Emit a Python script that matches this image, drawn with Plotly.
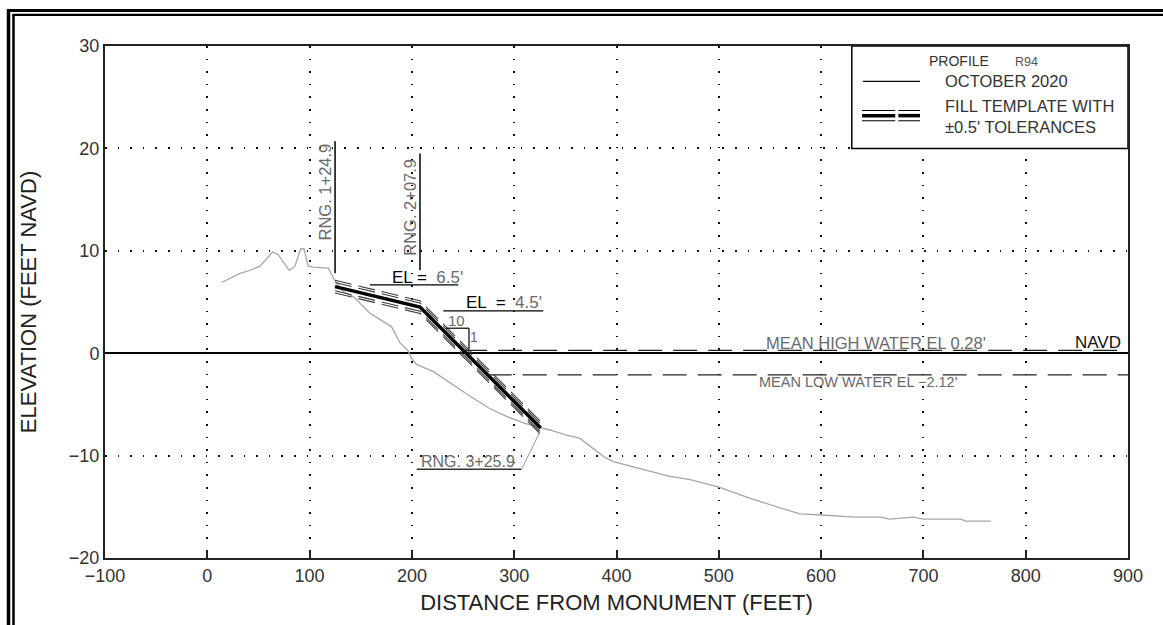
import plotly.graph_objects as go

# ---------------- data ----------------
profile_x = [14, 32, 42, 51.5, 64, 69.5, 80, 85.7, 91.3, 94.5, 98.7, 103.6, 118.3, 123.9,
             133, 143, 159, 172, 180, 188.4, 196.5, 199.7, 204.6, 221, 237, 257, 276, 293,
             309, 322, 335, 351, 364, 389, 397, 451, 472, 501, 530, 579, 600, 633, 658,
             667, 690, 700, 737, 741, 766]
profile_y = [6.9, 7.8, 8.1, 8.5, 9.9, 9.6, 8.1, 8.5, 10.2, 10.2, 8.5, 8.4, 8.3, 7.2,
             6.0, 5.5, 3.9, 3.1, 2.6, 1.0, 0.2, -0.5, -1.1, -1.8, -2.9, -4.2, -5.4, -6.2,
             -6.8, -7.2, -7.5, -8.0, -8.3, -10.2, -10.6, -12.0, -12.35, -13.1, -14.15, -15.7,
             -15.8, -16.0, -16.0, -16.2, -16.0, -16.2, -16.2, -16.4, -16.4]

template_x = [124.9, 207.9, 325.9]
template_y = [6.5, 4.5, -7.3]
tolerance = 0.5

mhw_el = 0.28
mlw_el = -2.12
mhw_x = [250.1, 900]
mlw_x = [274.1, 900]

rng_stations = [124.9, 207.9]
rng_labels = ["RNG. 1+24.9", "RNG. 2+07.9"]
rng_line_y = [[7.8, 20.7], [8.1, 19.5]]

x_ticks = [-100, 0, 100, 200, 300, 400, 500, 600, 700, 800, 900]
y_ticks = [-20, -10, 0, 10, 20, 30]

FONT = "Liberation Sans, Arial, DejaVu Sans, sans-serif"
GRAY_TXT = "#6a6a6a"

fig = go.Figure()

# profile
fig.add_trace(go.Scatter(x=profile_x, y=profile_y, mode="lines",
                         line=dict(color="#a6a6a6", width=1.3), showlegend=False,
                         hoverinfo="skip"))

# tolerance lines (double thin dashed lines each side)
for sgn in (1, -1):
    for off in (tolerance - 0.1, tolerance + 0.12):
        fig.add_trace(go.Scatter(x=template_x, y=[v + sgn * off for v in template_y],
                                 mode="lines",
                                 line=dict(color="#3c3c3c", width=1.1, dash="17px,7px"),
                                 showlegend=False, hoverinfo="skip"))
# template centre line
fig.add_trace(go.Scatter(x=template_x, y=template_y, mode="lines",
                         line=dict(color="black", width=3.5), showlegend=False,
                         hoverinfo="skip"))

# MHW & MLW
fig.add_trace(go.Scatter(x=mhw_x, y=[mhw_el, mhw_el], mode="lines",
                         line=dict(color="#222", width=1.3, dash="24px,11px"),
                         showlegend=False, hoverinfo="skip"))
fig.add_trace(go.Scatter(x=mlw_x, y=[mlw_el, mlw_el], mode="lines",
                         line=dict(color="#222", width=1.3, dash="24px,11px"),
                         showlegend=False, hoverinfo="skip"))

shapes = []
# RNG vertical lines
for xs, (y0, y1) in zip(rng_stations, rng_line_y):
    shapes.append(dict(type="line", x0=xs, x1=xs, y0=y0, y1=y1,
                       line=dict(color="black", width=1.5)))
# EL underlines
shapes.append(dict(type="line", x0=159, x1=245.4, y0=6.68, y1=6.68, line=dict(color="black", width=1.3)))
shapes.append(dict(type="line", x0=230.7, x1=328.4, y0=4.13, y1=4.13, line=dict(color="black", width=1.3)))
# slope 10:1 symbol
shapes.append(dict(type="line", x0=233.3, x1=255.8, y0=2.44, y1=2.44, line=dict(color="black", width=1.2)))
shapes.append(dict(type="line", x0=255.8, x1=255.8, y0=2.44, y1=0.39, line=dict(color="black", width=1.2)))
# RNG 3 leader
shapes.append(dict(type="line", x0=204.6, x1=307.2, y0=-11.34, y1=-11.34, line=dict(color="#333", width=1.5)))
shapes.append(dict(type="line", x0=307.2, x1=325.2, y0=-11.34, y1=-7.66, line=dict(color="#999", width=1)))

# legend box
shapes.append(dict(type="rect", x0=630, x1=900, y0=20, y1=30, fillcolor="white",
                   line=dict(color="black", width=1.5), layer="above"))
shapes.append(dict(type="line", x0=641, x1=696.7, y0=26.55, y1=26.55,
                   line=dict(color="black", width=1.3), layer="above"))
for seg in ((640, 672.5), (675.5, 696.7)):
    shapes.append(dict(type="line", x0=seg[0], x1=seg[1], y0=23.2, y1=23.2,
                       line=dict(color="black", width=3.5), layer="above"))
    for off in (0.5, -0.5):
        shapes.append(dict(type="line", x0=seg[0], x1=seg[1], y0=23.2 + off, y1=23.2 + off,
                           line=dict(color="black", width=1), layer="above"))

# outer page frame (paper coords)
PL, PR, PT, PB = 105, 1128, 46, 558


def px(xp):
    return (xp - PL) / (PR - PL)


def py(yp):
    return (PB - yp) / (PB - PT)


shapes.append(dict(type="line", xref="paper", yref="paper", x0=px(8.5), x1=px(8.5),
                   y0=py(9.5), y1=py(640), line=dict(color="black", width=3.5)))
shapes.append(dict(type="line", xref="paper", yref="paper", x0=px(13.5), x1=px(13.5),
                   y0=py(14.5), y1=py(640), line=dict(color="black", width=2.5)))
shapes.append(dict(type="line", xref="paper", yref="paper", x0=px(7), x1=px(1180),
                   y0=py(10.5), y1=py(10.5), line=dict(color="black", width=3)))
shapes.append(dict(type="line", xref="paper", yref="paper", x0=px(12.5), x1=px(1180),
                   y0=py(14.8), y1=py(14.8), line=dict(color="black", width=2.3)))

annotations = []


def ann(text, x, y, size=15, color=GRAY_TXT, xanchor="center", angle=0):
    annotations.append(dict(text=text, x=x, y=y, xref="x", yref="y", showarrow=False,
                            font=dict(family=FONT, size=size, color=color),
                            xanchor=xanchor, yanchor="middle", textangle=angle))


for lab, xt, yt in zip(rng_labels, [115.1, 198.1], [15.7, 14.3]):
    ann(lab, xt, yt, size=16.5, angle=-90)

ann("<span style='color:black'>EL</span> <span style='color:black'>=</span>  6.5'", 215.7, 7.4, size=17)
ann("<span style='color:black'>EL</span>  <span style='color:black'>=</span>  4.5'", 290, 4.95, size=17)
ann("10", 243.7, 3.2, size=15)
ann("1", 260.7, 1.6, size=14)
ann("MEAN HIGH WATER EL 0.28'", 653.3, 1.04, size=16.5)
ann("NAVD", 870.2, 1.04, size=17, color="#111")
ann("MEAN LOW WATER EL −2.12'", 636.1, -2.85, size=14.5)
ann("RNG. 3+25.9", 254.8, -10.53, size=16)

# legend texts
ann("PROFILE", 703.5, 28.5, size=14, color="#333", xanchor="left")
ann("R94", 787.6, 28.45, size=12.5, color="#555", xanchor="left")
ann("OCTOBER 2020", 719.2, 26.55, size=16.5, color="#333", xanchor="left")
ann("FILL TEMPLATE WITH", 719.2, 24.1, size=16.5, color="#333", xanchor="left")
ann("±0.5' TOLERANCES", 719.2, 22.05, size=16.5, color="#333", xanchor="left")

fig.update_layout(
    width=1163, height=625,
    margin=dict(l=PL, r=1163 - PR, t=PT, b=625 - PB, autoexpand=False),
    paper_bgcolor="white", plot_bgcolor="white",
    shapes=shapes, annotations=annotations,
    font=dict(family=FONT, color="#333"),
    showlegend=False,
)
fig.update_xaxes(
    range=[-100, 900], tickvals=x_ticks, ticktext=[str(v).replace("-", "−") for v in x_ticks],
    ticks="inside", ticklen=7, tickwidth=1.5, tickcolor="#222",
    showgrid=True, gridcolor="#111", gridwidth=1.5, griddash="1.6px,11px",
    zeroline=False, showline=True, linecolor="#222", linewidth=2, mirror=True,
    tickfont=dict(family=FONT, size=18, color="#333"),
    title=dict(text="DISTANCE FROM MONUMENT (FEET)",
               font=dict(family=FONT, size=22, color="#222"), standoff=10),
)
fig.update_yaxes(
    range=[-20, 30], tickvals=y_ticks, ticks="",
    showgrid=True, gridcolor="#111", gridwidth=1.5, griddash="1.6px,11px",
    zeroline=True, zerolinecolor="black", zerolinewidth=1.5,
    showline=True, linecolor="#222", linewidth=2, mirror=True,
    tickfont=dict(family=FONT, size=18, color="#333"),
    title=dict(text="ELEVATION (FEET NAVD)",
               font=dict(family=FONT, size=22, color="#222"), standoff=26),
)

fig.write_html("out.html")
